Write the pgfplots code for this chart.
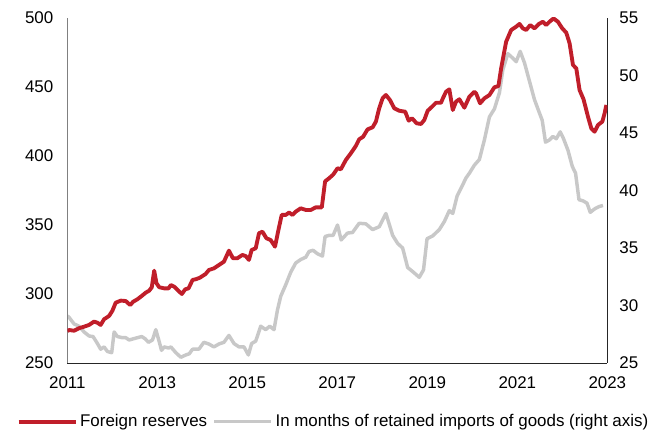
\documentclass[border=0pt]{standalone}
\usepackage{fontspec}
\setmainfont{Liberation Sans}
\usepackage{pgfplots}
\pgfplotsset{compat=1.18}
\definecolor{redline}{RGB}{192,30,42}
\definecolor{greyline}{RGB}{200,200,200}

\pgfplotstableread{
x y
2011.000 273.2
2011.038 273.9
2011.149 273.4
2011.260 275.2
2011.372 276.3
2011.483 277.6
2011.594 280.0
2011.668 279.2
2011.741 277.6
2011.817 281.7
2011.928 284.1
2012.002 287.9
2012.075 293.7
2012.187 295.2
2012.298 294.9
2012.396 292.0
2012.463 294.4
2012.558 296.2
2012.654 298.6
2012.743 301.0
2012.819 302.4
2012.877 304.9
2012.930 316.9
2012.981 307.8
2013.042 304.9
2013.153 304.1
2013.249 304.1
2013.300 306.5
2013.375 305.3
2013.449 302.9
2013.545 300.0
2013.620 303.4
2013.694 304.1
2013.783 310.2
2013.856 310.7
2013.945 311.8
2014.072 314.5
2014.146 317.4
2014.257 318.6
2014.368 321.0
2014.480 323.4
2014.591 331.4
2014.680 325.9
2014.778 325.9
2014.889 328.3
2014.963 327.5
2015.036 324.7
2015.096 331.9
2015.186 333.1
2015.259 344.0
2015.335 345.2
2015.424 340.4
2015.519 339.1
2015.615 334.3
2015.691 346.4
2015.764 357.3
2015.853 357.3
2015.927 359.0
2016.003 357.3
2016.076 359.7
2016.187 362.1
2016.299 360.9
2016.410 360.9
2016.521 362.8
2016.655 362.8
2016.728 381.6
2016.817 383.9
2016.907 386.5
2017.004 391.1
2017.078 390.4
2017.189 397.1
2017.301 402.0
2017.412 407.3
2017.485 412.1
2017.574 414.0
2017.672 419.3
2017.784 420.8
2017.857 424.9
2017.931 434.6
2018.006 441.8
2018.080 444.2
2018.169 440.6
2018.265 434.6
2018.376 432.8
2018.509 432.1
2018.585 425.6
2018.659 427.3
2018.763 423.7
2018.859 423.2
2018.932 426.1
2019.008 432.8
2019.104 435.7
2019.193 438.6
2019.304 438.6
2019.355 442.5
2019.416 446.6
2019.489 448.3
2019.565 433.3
2019.638 439.4
2019.712 441.1
2019.823 435.0
2019.934 443.0
2020.045 446.6
2020.083 445.4
2020.172 438.2
2020.268 441.8
2020.380 444.2
2020.491 449.8
2020.580 450.7
2020.640 463.5
2020.751 482.8
2020.863 491.3
2020.974 493.7
2021.048 495.7
2021.123 492.5
2021.197 491.3
2021.286 494.9
2021.381 492.5
2021.479 495.7
2021.568 497.3
2021.642 494.9
2021.715 497.3
2021.804 499.7
2021.902 497.3
2021.998 492.5
2022.087 489.4
2022.161 481.7
2022.236 466.0
2022.310 463.5
2022.383 447.8
2022.472 441.0
2022.570 428.5
2022.644 420.0
2022.717 417.6
2022.793 422.5
2022.889 424.9
2022.940 431.0
2022.978 437.0
}\reserves

\pgfplotstableread{
x y
2011.000 29.1
2011.038 28.97
2011.149 28.4
2011.260 28.2
2011.372 27.7
2011.483 27.35
2011.572 27.3
2011.668 26.7
2011.741 26.2
2011.817 26.4
2011.891 26.0
2011.986 25.9
2012.040 27.7
2012.113 27.3
2012.224 27.2
2012.298 27.2
2012.374 27.0
2012.463 27.1
2012.558 27.2
2012.654 27.3
2012.730 27.1
2012.803 26.8
2012.892 27.0
2012.966 27.9
2013.042 26.85
2013.093 26.1
2013.153 26.4
2013.249 26.3
2013.300 26.4
2013.411 25.9
2013.522 25.5
2013.634 25.7
2013.709 25.8
2013.783 26.2
2013.856 26.2
2013.923 26.2
2014.034 26.8
2014.146 26.65
2014.257 26.4
2014.368 26.65
2014.480 26.8
2014.591 27.4
2014.702 26.7
2014.814 26.4
2014.925 26.4
2015.023 25.7
2015.096 26.7
2015.186 26.9
2015.297 28.2
2015.408 27.9
2015.497 28.2
2015.593 27.9
2015.669 29.6
2015.742 30.8
2015.853 31.8
2015.965 32.9
2016.076 33.7
2016.187 34.0
2016.299 34.2
2016.372 34.7
2016.461 34.8
2016.559 34.5
2016.670 34.3
2016.728 36.0
2016.817 36.1
2016.907 36.1
2017.004 37.0
2017.085 35.7
2017.227 36.3
2017.338 36.35
2017.485 37.15
2017.634 37.1
2017.784 36.6
2017.931 36.85
2018.080 38.0
2018.229 36.1
2018.340 35.4
2018.451 35.0
2018.563 33.3
2018.674 32.95
2018.821 32.45
2018.915 33.1
2018.993 35.8
2019.119 36.05
2019.266 36.6
2019.378 37.3
2019.489 38.25
2019.565 38.0
2019.660 39.5
2019.749 40.2
2019.861 41.1
2019.934 41.5
2020.045 42.2
2020.157 42.7
2020.268 44.4
2020.380 46.4
2020.491 47.1
2020.602 48.5
2020.678 50.5
2020.789 51.9
2020.901 51.5
2020.974 51.2
2021.063 52.1
2021.159 51.1
2021.270 49.5
2021.381 47.9
2021.457 47.1
2021.553 46.1
2021.626 44.2
2021.715 44.4
2021.791 44.7
2021.865 44.5
2021.953 45.1
2022.027 44.5
2022.125 43.5
2022.221 42.1
2022.294 41.5
2022.370 39.2
2022.459 39.1
2022.548 38.9
2022.621 38.1
2022.717 38.4
2022.815 38.6
2022.904 38.7
}\months

\begin{document}
\begin{tikzpicture}[font=\fontsize{12.7}{15}\selectfont]
\useasboundingbox (-50.5pt,-51.75pt) rectangle (445.25pt,272.25pt);
% right axis (grey series), drawn first so red stays on top
\begin{axis}[
  scale only axis, width=405pt, height=258.75pt,
  xmin=2011, xmax=2023, ymin=25, ymax=55,
  axis y line*=right, axis x line=none,
  ytick={25,30,...,55},
  major tick length=0pt,
  y axis line style={black!85,-},
  yticklabel style={xshift=5.5pt},
  /pgf/number format/assume math mode=true,
]
\addplot[greyline, line width=2.6pt, line join=round] table[x=x,y=y] {\months};
\end{axis}
% left axis (red series) with legend
\begin{axis}[
  scale only axis, width=405pt, height=258.75pt,
  xmin=2011, xmax=2023, ymin=250, ymax=500,
  axis y line*=left, axis x line*=bottom,
  xtick={2011,2013,...,2023}, ytick={250,300,...,500},
  major tick length=0pt,
  x axis line style={black!85,-}, y axis line style={gray,-},
  xticklabel style={yshift=-7pt, /pgf/number format/1000 sep={}},
  yticklabel style={xshift=-7pt},
  /pgf/number format/assume math mode=true,
  legend columns=2,
  legend style={draw=none, fill=none, at={(0.4935,-0.170)}, anchor=center,
    font=\fontsize{12.7}{15}\selectfont,
    /tikz/every even column/.append style={column sep=2pt}},
  legend cell align=left,
  legend image code/.code={\draw[#1] (0cm,0cm) -- (1.5cm,0cm);},
]
\addplot[redline, line width=2.9pt, line join=round] table[x=x,y=y] {\reserves};
\addlegendentry{Foreign reserves}
\addlegendimage{greyline, line width=2.6pt}
\addlegendentry{In months of retained imports of goods (right axis)}
\end{axis}
\end{tikzpicture}
\end{document}
